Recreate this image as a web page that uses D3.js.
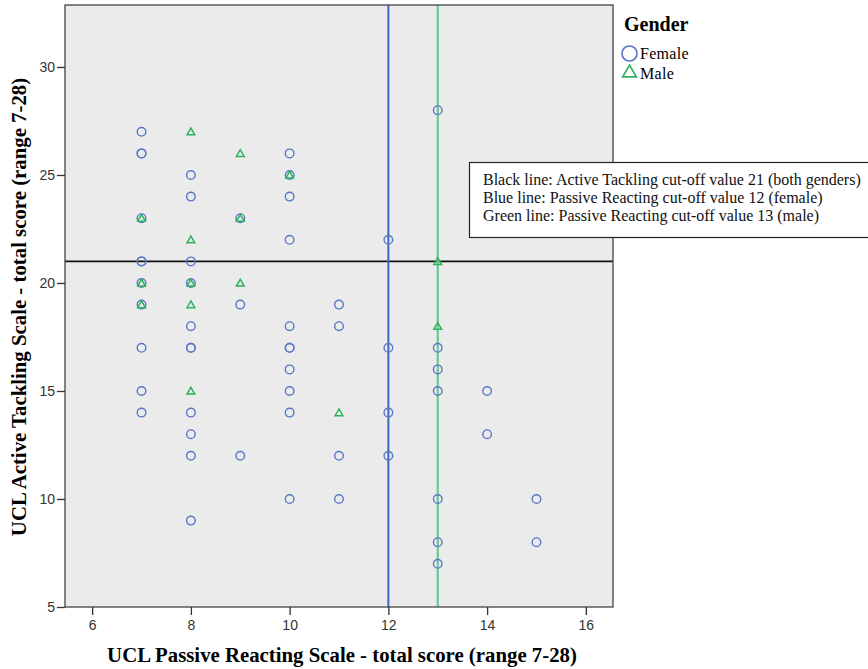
<!DOCTYPE html>
<html><head><meta charset="utf-8">
<script src="https://cdn.jsdelivr.net/npm/d3@7"></script>
<style>body{margin:0;background:#fff}svg{display:block}</style>
</head><body>
<svg id="c" width="868" height="669"></svg>
<script>
// Female points: [passive reacting, active tackling]
const femaleX = [7,7,7,7,7,7,7,7,7,7,7, 8,8,8,8,8,8,8,8,8,8,8, 9,9,9, 10,10,10,10,10,10,10,10,10,10,10, 11,11,11,11, 12,12,12,12, 13,13,13,13,13,13,13, 14,14, 15,15];
const femaleY = [27,26,26,23,21,21,20,19,17,15,14, 25,24,21,20,18,17,17,14,13,12,9, 23,19,12, 26,25,24,22,18,17,17,16,15,14,10, 19,18,12,10, 22,17,14,12, 28,17,16,15,10,8,7, 15,13, 10,8];
const maleX = [8,9,7,9,10,8,7,8,9,7,8,8,11,13,13];
const maleY = [27,26,23,23,25,22,20,20,20,19,19,15,14,21,18];
const xTicks = [6,8,10,12,14,16];
const yTicks = [5,10,15,20,25,30];
const cutActive = 21, cutFemale = 12, cutMale = 13;
const legendLabels = ["Female","Male"];
const noteLines = ["Black line: Active Tackling cut-off value 21 (both genders)",
                   "Blue line: Passive Reacting cut-off value 12 (female)",
                   "Green line: Passive Reacting cut-off value 13 (male)"];

const svg = d3.select("#c");
const L=65, R=613, T=5, B=607;
const x = d3.scaleLinear().domain([5.45,16.55]).range([L,R]);
const y = d3.scaleLinear().domain([5,32.87]).range([B,T]);
const blue="#5878c6", green="#2cb35c";
const serif="Liberation Serif, Times New Roman, serif";

svg.append("rect").attr("x",L).attr("y",T).attr("width",R-L).attr("height",B-T)
  .attr("fill","#ebebeb");

// reference lines
svg.append("line").attr("x1",L).attr("x2",R).attr("y1",y(cutActive)).attr("y2",y(cutActive))
  .attr("stroke","#111").attr("stroke-width",1.6);
svg.append("line").attr("x1",x(cutFemale)).attr("x2",x(cutFemale)).attr("y1",T).attr("y2",B)
  .attr("stroke","#3f66c2").attr("stroke-width",2);
svg.append("line").attr("x1",x(cutMale)).attr("x2",x(cutMale)).attr("y1",T).attr("y2",B)
  .attr("stroke","#6cc797").attr("stroke-width",2.2);

const tri = d3.symbol().type(d3.symbolTriangle).size(26);

svg.append("g").selectAll("circle").data(femaleX.map((v,i)=>[v,femaleY[i]])).join("circle")
  .attr("cx",d=>x(d[0])).attr("cy",d=>y(d[1])).attr("r",4.3)
  .attr("fill","none").attr("stroke",blue).attr("stroke-width",1.4);
svg.append("g").selectAll("path").data(maleX.map((v,i)=>[v,maleY[i]])).join("path")
  .attr("d",tri).attr("transform",d=>`translate(${x(d[0])},${y(d[1])+0.8})`)
  .attr("fill","none").attr("stroke",green).attr("stroke-width",1.5);

// frame
svg.append("rect").attr("x",L).attr("y",T).attr("width",R-L).attr("height",B-T)
  .attr("fill","none").attr("stroke","#444").attr("stroke-width",1.3);

// axes
const ax = svg.append("g").attr("transform",`translate(0,${B})`)
  .call(d3.axisBottom(x).tickValues(xTicks).tickSize(8).tickSizeOuter(0).tickPadding(5));
const ay = svg.append("g").attr("transform",`translate(${L},0)`)
  .call(d3.axisLeft(y).tickValues(yTicks).tickSize(8).tickSizeOuter(0).tickPadding(2));
[ax,ay].forEach(g=>{
  g.select(".domain").remove();
  g.selectAll("line").attr("stroke","#333").attr("stroke-width",1.3);
  g.selectAll("text").attr("fill","#333").style("font-family","Liberation Sans, Arial, sans-serif").style("font-size","14px");
});

// titles
svg.append("text").attr("x",342).attr("y",662).attr("text-anchor","middle")
  .style("font-family",serif).style("font-weight","bold").style("font-size","20.8px")
  .text("UCL Passive Reacting Scale - total score (range 7-28)");
svg.append("text").attr("transform","translate(26,307) rotate(-90)").attr("text-anchor","middle")
  .style("font-family",serif).style("font-weight","bold").style("font-size","20.8px")
  .text("UCL Active Tackling Scale - total score (range 7-28)");

// legend
svg.append("text").attr("x",624).attr("y",31)
  .style("font-family",serif).style("font-weight","bold").style("font-size","20px")
  .text("Gender");
const lg = svg.append("g");
lg.append("circle").attr("cx",629.5).attr("cy",53.5).attr("r",7.5).attr("fill","none").attr("stroke",blue).attr("stroke-width",1.7);
lg.append("path").attr("d",d3.symbol().type(d3.symbolTriangle).size(80)).attr("transform","translate(629.5,73)")
  .attr("fill","none").attr("stroke",green).attr("stroke-width",1.7);
legendLabels.forEach((t,i)=>{
  lg.append("text").attr("x",640).attr("y",59+i*20)
    .style("font-family",serif).style("font-size","16px").style("letter-spacing","0.3px")
    .text(t);
});

// note box
svg.append("rect").attr("x",469.5).attr("y",162.5).attr("width",400).attr("height",75)
  .attr("fill","#fff").attr("stroke","#222").attr("stroke-width",1.2);
noteLines.forEach((t,i)=>{
  svg.append("text").attr("x",483).attr("y",185+i*18)
    .style("font-family",serif).style("font-size","16px").attr("fill","#111")
    .text(t);
});
</script>
</body></html>
